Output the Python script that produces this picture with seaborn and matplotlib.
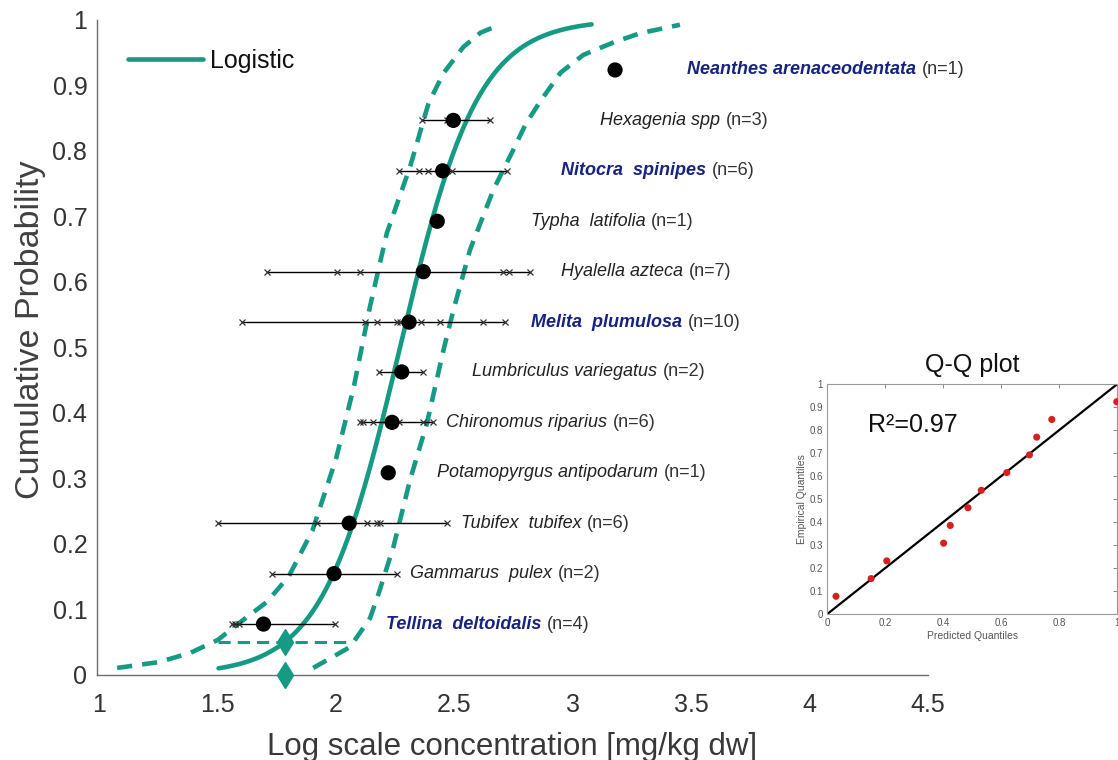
import numpy as np
import pandas as pd
import matplotlib
matplotlib.use("Agg")
import matplotlib.pyplot as plt
import seaborn as sns

# ---------------- data ----------------
species = ["Tellina  deltoidalis", "Gammarus  pulex", "Tubifex  tubifex",
           "Potamopyrgus antipodarum", "Chironomus riparius",
           "Lumbriculus variegatus", "Melita  plumulosa", "Hyalella azteca",
           "Typha  latifolia", "Nitocra  spinipes", "Hexagenia spp",
           "Neanthes arenaceodentata"]
n_tests = [4, 2, 6, 1, 6, 2, 10, 7, 1, 6, 3, 1]
marine = [True, False, False, False, False, False, True, False, False, True, False, True]
cum_prob = [0.077, 0.154, 0.231, 0.308, 0.385, 0.462, 0.538, 0.615, 0.692, 0.769, 0.846, 0.923]
mean_conc = [1.693, 1.991, 2.055, 2.220, 2.236, 2.277, 2.308, 2.368, 2.427, 2.450, 2.495, 3.178]
individual_conc = [
    [1.559, 1.573, 1.590, 1.995],
    [1.731, 2.256],
    [1.503, 1.921, 2.129, 2.174, 2.185, 2.467],
    [],
    [2.101, 2.112, 2.157, 2.267, 2.368, 2.408],
    [2.182, 2.366],
    [1.604, 2.122, 2.174, 2.256, 2.270, 2.310, 2.359, 2.439, 2.619, 2.713],
    [1.709, 2.005, 2.101, 2.370, 2.704, 2.731, 2.819],
    [],
    [2.266, 2.351, 2.389, 2.450, 2.490, 2.720],
    [2.364, 2.470, 2.650],
    [],
]

# logistic SSD fit (location, scale) and its x range
logis_loc = 2.270
logis_scale = 0.165
logis_range = [1.503, 3.079]

# confidence band curves
lower_band_x = [1.075, 1.252, 1.384, 1.501, 1.581, 1.708, 1.800, 1.900, 2.000, 2.075, 2.143,
                2.214, 2.312, 2.390, 2.453, 2.537, 2.610, 2.671]
lower_band_y = [0.010, 0.019, 0.033, 0.053, 0.076, 0.111, 0.150, 0.220, 0.330, 0.440, 0.562,
                0.674, 0.775, 0.872, 0.918, 0.958, 0.980, 0.989]
upper_band_x = [1.903, 2.059, 2.143, 2.177, 2.242, 2.312, 2.383, 2.453, 2.495, 2.565, 2.664,
                2.748, 2.800, 2.860, 2.948, 3.044, 3.171, 3.283, 3.452]
upper_band_y = [0.010, 0.042, 0.086, 0.121, 0.195, 0.297, 0.383, 0.495, 0.556, 0.648, 0.740,
                0.801, 0.840, 0.874, 0.919, 0.946, 0.965, 0.979, 0.992]

# HC5
hc5_x = 1.784
hc5_p = 0.05
hc5_band = [1.501, 2.059]

# Q-Q plot
qq_predicted = [0.030, 0.151, 0.205, 0.401, 0.424, 0.485, 0.531, 0.619, 0.697, 0.722, 0.774, 0.998]
qq_empirical = [0.077, 0.154, 0.231, 0.308, 0.385, 0.462, 0.538, 0.615, 0.692, 0.769, 0.846, 0.923]
qq_r2 = "R²=0.97"

x_ticks = [1, 1.5, 2, 2.5, 3, 3.5, 4, 4.5]
x_ticklabels = ["1", "1.5", "2", "2.5", "3", "3.5", "4", "4.5"]
y_ticks = [0, 0.1, 0.2, 0.3, 0.4, 0.5, 0.6, 0.7, 0.8, 0.9, 1]
y_ticklabels = ["0", "0.1", "0.2", "0.3", "0.4", "0.5", "0.6", "0.7", "0.8", "0.9", "1"]
qq_xticks = [0, 0.2, 0.4, 0.6, 0.8, 1]
qq_xticklabels = ["0", "0.2", "0.4", "0.6", "0.8", "1"]
qq_yticklabels = y_ticklabels

# label anchor positions (x in data units)
label_x = [2.211, 2.312, 2.528, 2.427, 2.464, 2.574, 2.823, 2.950, 2.823, 2.950, 3.114, 3.482]

# ---------------- style ----------------
sns.set_theme(style="white")
plt.rcParams["font.family"] = ["Liberation Sans", "DejaVu Sans"]

TEAL = "#159a83"
NAVY = "#16237f"
DARK = "#222222"
GRAY_AX = "#6e6e6e"

fig = plt.figure(figsize=(11.18, 7.60), dpi=100)
ax = fig.add_axes([0.0868, 0.1125, 0.7433, 0.8618])

# logistic curve
xs = np.linspace(logis_range[0], logis_range[1], 300)
fit_df = pd.DataFrame({"x": xs, "p": 1.0 / (1.0 + np.exp(-(xs - logis_loc) / logis_scale))})
sns.lineplot(data=fit_df, x="x", y="p", ax=ax, color=TEAL, lw=3.3, label="Logistic",
             sort=False, estimator=None, zorder=3)

# confidence bands
dash = (0, (3.3, 2.2))
sns.lineplot(x=lower_band_x, y=lower_band_y, ax=ax, color=TEAL, lw=3.3, linestyle=dash,
             sort=False, estimator=None, legend=False, zorder=3)
sns.lineplot(x=upper_band_x, y=upper_band_y, ax=ax, color=TEAL, lw=3.3, linestyle=dash,
             sort=False, estimator=None, legend=False, zorder=3)

# HC5 line and diamonds
ax.plot(hc5_band, [hc5_p, hc5_p], color=TEAL, lw=2.2, linestyle=(0, (4, 2.3)), zorder=3)
ax.plot([hc5_x], [hc5_p], marker="d", color=TEAL, ms=13, zorder=6, clip_on=False, ls="none")
ax.plot([hc5_x], [0], marker="d", color=TEAL, ms=13, zorder=6, clip_on=False, ls="none")

# individual data ranges
for vals, p in zip(individual_conc, cum_prob):
    if len(vals) == 0:
        continue
    ax.plot([min(vals), max(vals)], [p, p], color="black", lw=1.0, zorder=4)
    ax.plot(vals, [p] * len(vals), ls="none", marker="x", ms=4.5, mew=0.9,
            color="#333333", zorder=4)

# species means
sns.scatterplot(x=mean_conc, y=cum_prob, ax=ax, color="black", s=120, edgecolor="none",
                zorder=5, legend=False)

# species labels
for name, n, p, lx, mar in zip(species, n_tests, cum_prob, label_x, marine):
    t = ax.text(lx, p, name, fontsize=13, style="italic",
                fontweight="bold" if mar else "normal",
                color=NAVY if mar else DARK, va="center", ha="left", zorder=7)
    ax.annotate(f"(n={n})", xy=(1, 0.5), xycoords=t, xytext=(4, 0),
                textcoords="offset points", fontsize=13, color="#333333",
                va="center", ha="left")

# axes
ax.set_xlim(0.99, 4.5)
ax.set_ylim(0, 1)
ax.set_xticks(x_ticks)
ax.set_xticklabels(x_ticklabels)
ax.set_yticks(y_ticks)
ax.set_yticklabels(y_ticklabels)
ax.tick_params(axis="both", direction="in", length=5, width=1, color=GRAY_AX,
               labelcolor="#333333")
ax.tick_params(axis="x", labelsize=18, pad=13)
ax.tick_params(axis="y", labelsize=18, pad=7)
for side in ["top", "right"]:
    ax.spines[side].set_visible(False)
for side in ["left", "bottom"]:
    ax.spines[side].set_color(GRAY_AX)
    ax.spines[side].set_linewidth(1.0)
ax.set_xlabel("Log scale concentration [mg/kg dw]", fontsize=22.5, color="#383838")
ax.set_ylabel("Cumulative Probability", fontsize=24.5, color="#404040")
ax.xaxis.set_label_coords(0.5, -0.088)
ax.yaxis.set_label_coords(-0.061, 0.527)
ax.grid(False)

leg = ax.legend(loc="center left", bbox_to_anchor=(0.022, 0.937), frameon=False,
                borderpad=0, handlelength=3.0, handletextpad=0.3, fontsize=18)
for txt in leg.get_texts():
    txt.set_color("#111111")

# ---------------- inset Q-Q plot ----------------
ax2 = fig.add_axes([0.740, 0.1921, 0.2594, 0.3026])
ax2.set_facecolor("white")
ax2.plot([0, 1], [0, 1], color="black", lw=1.6, zorder=2)
sns.scatterplot(x=qq_predicted, y=qq_empirical, ax=ax2, color="#d62020", s=26,
                edgecolor="none", zorder=3, legend=False, clip_on=False)
ax2.set_xlim(0, 1)
ax2.set_ylim(0, 1)
ax2.set_xticks(qq_xticks)
ax2.set_xticklabels(qq_xticklabels)
ax2.set_yticks(y_ticks)
ax2.set_yticklabels(qq_yticklabels)
ax2.tick_params(axis="both", direction="in", length=3, width=0.7, color="#888888",
                labelsize=7, labelcolor="#555555", pad=3, top=True, right=True)
for s in ax2.spines.values():
    s.set_color("#999999")
    s.set_linewidth(0.8)
ax2.set_xlabel("Predicted Quantiles", fontsize=7.5, color="#555555", labelpad=2)
ax2.set_ylabel("Empirical Quantiles", fontsize=7.5, color="#555555", labelpad=2)
ax2.set_title("Q-Q plot", fontsize=18, color="#111111", pad=9)
ax2.text(0.14, 0.82, qq_r2, fontsize=18, color="#111111", va="center", ha="left")
ax2.grid(False)

fig.savefig("out.png", dpi=100)
